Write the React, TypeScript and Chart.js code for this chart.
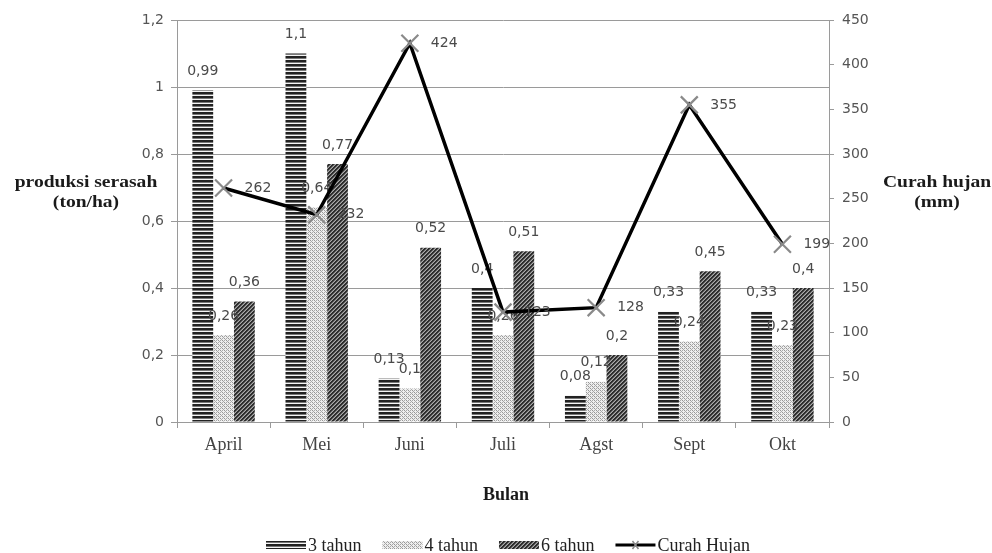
import React, { useEffect, useRef } from 'react';
import { Chart, registerables } from 'chart.js';
Chart.register(...registerables);

const months = ['April', 'Mei', 'Juni', 'Juli', 'Agst', 'Sept', 'Okt'];
const tahun3 = [0.99, 1.1, 0.13, 0.4, 0.08, 0.33, 0.33];
const tahun4 = [0.26, 0.64, 0.1, 0.26, 0.12, 0.24, 0.23];
const tahun6 = [0.36, 0.77, 0.52, 0.51, 0.2, 0.45, 0.4];
const curahHujan = [262, 232, 424, 123, 128, 355, 199];
const seriesNames = ['3 tahun', '4 tahun', '6 tahun', 'Curah Hujan'];
const leftTitle = ['produksi serasah', '(ton/ha)'];
const rightTitle = ['Curah hujan', '(mm)'];
const xTitle = 'Bulan';

const fmt = (v: number) => String(Math.round(v * 100) / 100).replace('.', ',');

function makeTile(kind: string): HTMLCanvasElement {
  const c = document.createElement('canvas');
  c.width = 4;
  c.height = 4;
  const ctx = c.getContext('2d')!;
  const img = ctx.createImageData(4, 4);
  for (let y = 0; y < 4; y++) {
    for (let x = 0; x < 4; x++) {
      let g = 255;
      if (kind === 'h') {
        g = y < 2 ? 34 : y === 2 ? 120 : 245;
      } else if (kind === 'd') {
        g = (x + y) % 2 === 0 && (x % 2 === 0) ? 150 : 238;
        if ((x + y) % 4 === 0) g = 170;
      } else {
        const k = (x + y) % 4;
        g = k === 0 || k === 1 ? 45 : k === 2 ? 110 : 170;
      }
      const i = (y * 4 + x) * 4;
      img.data[i] = g;
      img.data[i + 1] = g;
      img.data[i + 2] = g;
      img.data[i + 3] = 255;
    }
  }
  ctx.putImageData(img, 0, 0);
  return c;
}

const SERIF = '"Liberation Serif", "Times New Roman", serif';
const SANS = '"DejaVu Sans", Verdana, sans-serif';

export default function App() {
  const ref = useRef<HTMLCanvasElement>(null);
  useEffect(() => {
    const canvas = ref.current!;
    const c2d = canvas.getContext('2d')!;
    const pH = c2d.createPattern(makeTile('h'), 'repeat')!;
    const pD = c2d.createPattern(makeTile('d'), 'repeat')!;
    const pS = c2d.createPattern(makeTile('s'), 'repeat')!;
    const patterns = [pH, pD, pS];

    const drawScaled = (ctx: CanvasRenderingContext2D, text: string, x: number, y: number, sx: number) => {
      ctx.save();
      ctx.translate(x, y);
      ctx.scale(sx, 1);
      ctx.fillText(text, 0, 0);
      ctx.restore();
    };

    const drawLabels = (chart: any, index: number) => {
      const ctx = chart.ctx;
      const meta = chart.getDatasetMeta(index);
      const ds = chart.data.datasets[index];
      ctx.save();
      ctx.font = '14px ' + SANS;
      ctx.fillStyle = '#4a4a4a';
      ctx.textBaseline = 'middle';
      meta.data.forEach((el: any, j: number) => {
        const v = ds.data[j];
        if (meta.type === 'bar') {
          ctx.textAlign = 'center';
          ctx.fillText(fmt(v), el.x, el.y - 19);
        } else {
          ctx.textAlign = 'left';
          ctx.fillText(String(v), el.x + 21, el.y);
        }
      });
      ctx.restore();
    };

    const plugin = {
      id: 'customLabels',
      beforeDatasetDraw(chart: any, args: any) {
        if (args.index === 3) {
          drawLabels(chart, 0);
          drawLabels(chart, 1);
          drawLabels(chart, 2);
        }
      },
      afterDatasetDraw(chart: any, args: any) {
        if (args.index === 3) drawLabels(chart, 3);
      },
      afterDraw(chart: any) {
        const ctx = chart.ctx;
        ctx.save();
        ctx.fillStyle = '#1a1a1a';
        ctx.font = 'bold 17px ' + SERIF;
        ctx.textAlign = 'center';
        ctx.textBaseline = 'middle';
        drawScaled(ctx, leftTitle[0], 86, 183, 1.15);
        drawScaled(ctx, leftTitle[1], 86, 203, 1.15);
        drawScaled(ctx, rightTitle[0], 937, 183, 1.15);
        drawScaled(ctx, rightTitle[1], 937, 203, 1.15);
        ctx.font = 'bold 18px ' + SERIF;
        ctx.fillText(xTitle, 506, 495);

        // legend
        ctx.font = '18px ' + SERIF;
        ctx.textAlign = 'left';
        let x = 266;
        const ly = 545;
        seriesNames.forEach((name, i) => {
          if (i < 3) {
            ctx.fillStyle = patterns[i];
            ctx.fillRect(x, ly - 4, 40, 8);
          } else {
            ctx.strokeStyle = '#000';
            ctx.lineWidth = 3;
            ctx.beginPath();
            ctx.moveTo(x, ly);
            ctx.lineTo(x + 40, ly);
            ctx.stroke();
            ctx.strokeStyle = '#888';
            ctx.lineWidth = 1.5;
            ctx.beginPath();
            ctx.moveTo(x + 17, ly - 4);
            ctx.lineTo(x + 23, ly + 4);
            ctx.moveTo(x + 23, ly - 4);
            ctx.lineTo(x + 17, ly + 4);
            ctx.stroke();
          }
          ctx.fillStyle = '#222';
          ctx.fillText(name, x + 42, ly + 1);
          x += 42 + ctx.measureText(name).width + 21;
        });
        ctx.restore();
      },
    };

    const chart = new Chart(canvas, {
      type: 'bar',
      data: {
        labels: months,
        datasets: [
          { type: 'bar', label: seriesNames[0], data: tahun3, backgroundColor: pH, yAxisID: 'y', order: 1, categoryPercentage: 0.67, barPercentage: 1 },
          { type: 'bar', label: seriesNames[1], data: tahun4, backgroundColor: pD, yAxisID: 'y', order: 1, categoryPercentage: 0.67, barPercentage: 1 },
          { type: 'bar', label: seriesNames[2], data: tahun6, backgroundColor: pS, yAxisID: 'y', order: 1, categoryPercentage: 0.67, barPercentage: 1 },
          {
            type: 'line', label: seriesNames[3], data: curahHujan, yAxisID: 'y1', order: 0,
            borderColor: '#000', borderWidth: 3.5, tension: 0,
            pointStyle: 'crossRot', pointRadius: 12, pointBorderColor: '#8a8a8a', pointBorderWidth: 2.2,
            pointBackgroundColor: '#8a8a8a',
          },
        ],
      } as any,
      options: {
        responsive: false,
        animation: false,
        devicePixelRatio: 1,
        layout: { padding: { top: 20, left: 0, right: 0, bottom: 0 } },
        plugins: { legend: { display: false }, tooltip: { enabled: false } },
        scales: {
          x: {
            offset: true,
            grid: { display: true, drawOnChartArea: false, offset: true, color: '#9a9a9a', tickLength: 6 },
            border: { color: '#9a9a9a' },
            ticks: { color: '#444', font: { family: SERIF, size: 18 }, padding: 6 },
            afterFit: (s: any) => { s.height = 131; },
          },
          y: {
            position: 'left',
            min: 0, max: 1.2,
            ticks: { stepSize: 0.2, color: '#555', font: { family: SANS, size: 14 }, padding: 7, callback: (v: any) => fmt(Number(v)) },
            grid: { color: '#9a9a9a', tickLength: 6 },
            border: { color: '#9a9a9a' },
            afterFit: (s: any) => { s.width = 177; },
          },
          y1: {
            position: 'right',
            min: 0, max: 450,
            ticks: { stepSize: 50, color: '#555', font: { family: SANS, size: 14 }, padding: 8 },
            grid: { drawOnChartArea: false, color: '#9a9a9a', tickLength: 5 },
            border: { color: '#9a9a9a' },
            afterFit: (s: any) => { s.width = 163; },
          },
        },
      } as any,
      plugins: [plugin],
    });
    return () => chart.destroy();
  }, []);
  return (
    <div style={{ position: 'fixed', left: 0, top: 0, width: 992, height: 553, background: '#fff' }}>
      <canvas ref={ref} width={992} height={553} style={{ width: 992, height: 553 }} />
    </div>
  );
}
